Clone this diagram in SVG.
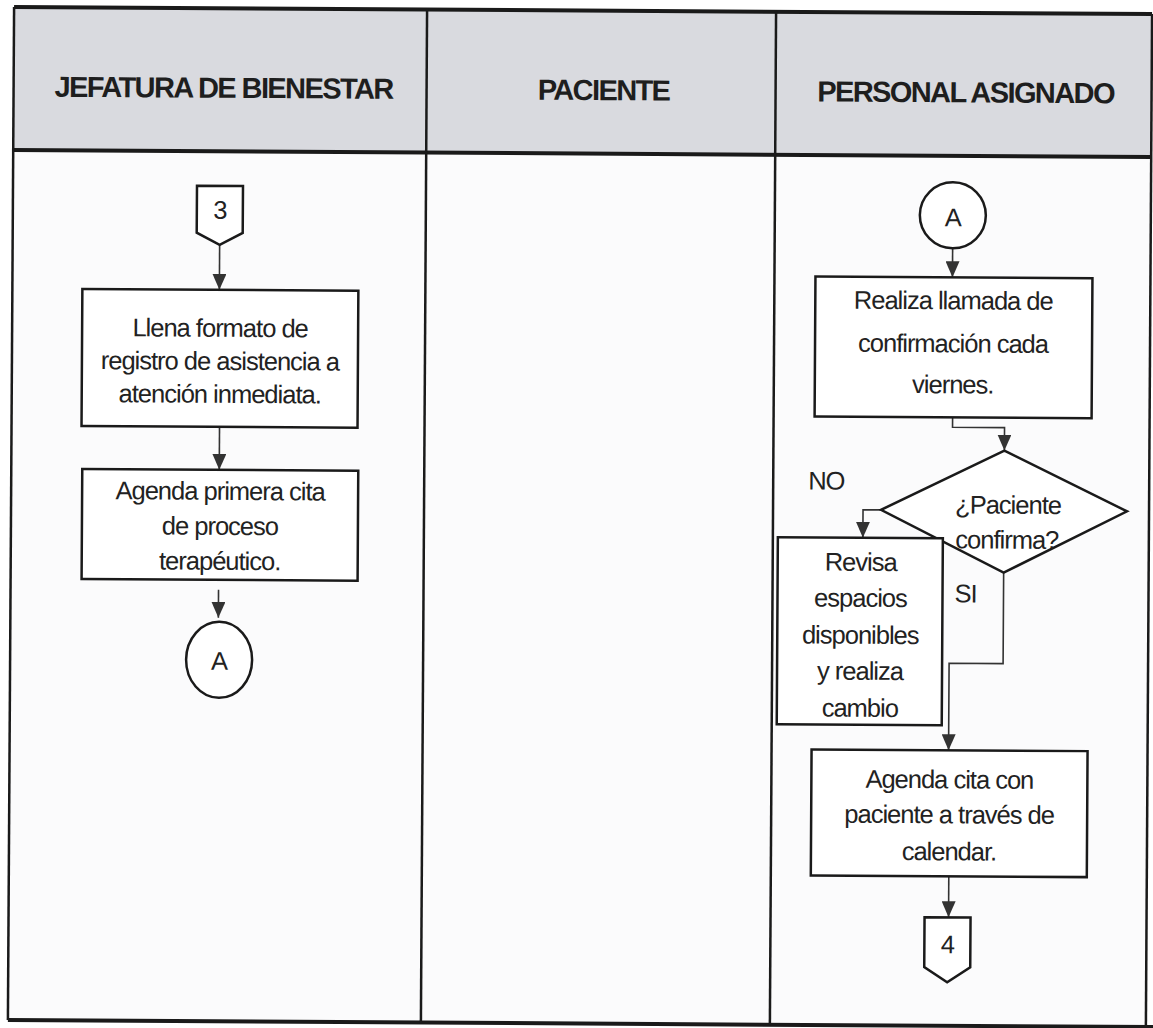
<svg xmlns="http://www.w3.org/2000/svg" width="1153" height="1028" viewBox="0 0 1153 1028">
  <defs>
    <marker id="arr" markerWidth="16" markerHeight="14" refX="16" refY="7" orient="auto" markerUnits="userSpaceOnUse" viewBox="0 0 16 14">
      <path d="M0,0 L16,7 L0,14 Z" fill="#333"/>
    </marker>
    <style>
      .lane { fill: #fbfbfc; }
      .hdr { fill: #d9dadf; }
      .border { stroke: #1a1a1a; stroke-width: 2.5; fill: none; }
      .thick { stroke: #1a1a1a; stroke-width: 4; fill: none; }
      .box { fill: #ffffff; stroke: #1a1a1a; stroke-width: 2.5; }
      .conn { fill: none; stroke: #333; stroke-width: 1.6; }
      .ht { font-family: "Liberation Sans", Arial, sans-serif; font-weight: bold; font-size: 29px; letter-spacing: -1.6px; fill: #1e1e1e; text-anchor: middle; }
      .t { font-family: "Liberation Sans", Arial, sans-serif; font-size: 25.5px; letter-spacing: -1px; fill: #222; text-anchor: middle; }
      .lbl { font-family: "Liberation Sans", Arial, sans-serif; font-size: 25.5px; letter-spacing: -1px; fill: #222; }
    </style>
  </defs>
  <rect x="0" y="0" width="1153" height="1028" fill="#ffffff"/>
  <g transform="rotate(0.35 576 514)">
    <g id="table">
      <rect class="hdr" x="11" y="10.5" width="1138" height="143"/>
      <rect class="lane" x="11" y="153.5" width="1138" height="870"/>
      <line class="thick" x1="11" y1="10.5" x2="1149" y2="10.5"/>
      <line class="thick" x1="11" y1="153.5" x2="1149" y2="153.5"/>
      <line class="thick" x1="11" y1="1023.5" x2="1160" y2="1023.5"/>
      <line class="border" x1="11" y1="10.5" x2="11" y2="1023.5"/>
      <line class="border" x1="424" y1="10.5" x2="424" y2="1023.5"/>
      <line class="border" x1="773" y1="10.5" x2="773" y2="1023.5"/>
      <line class="border" x1="1149" y1="10.5" x2="1149" y2="1030"/>
      <text class="ht" x="221" y="100">JEFATURA DE BIENESTAR</text>
      <text class="ht" x="601" y="100">PACIENTE</text>
      <text class="ht" x="963" y="100">PERSONAL ASIGNADO</text>
    </g>
    <g id="connectors">
      <path class="conn" d="M218,247 L218,292" marker-end="url(#arr)"/>
      <path class="conn" d="M219,429 L219,472" marker-end="url(#arr)"/>
      <path class="conn" d="M219,592 L219,620" marker-end="url(#arr)"/>
      <path class="conn" d="M951,246 L951,275" marker-end="url(#arr)"/>
      <path class="conn" d="M952,415 L952,425 L1004,425 L1004,448" marker-end="url(#arr)"/>
      <path class="conn" d="M881,508 L863,508 L863,536" marker-end="url(#arr)"/>
      <path class="conn" d="M1004,570 L1004,661 L950,661 L950,748" marker-end="url(#arr)"/>
      <path class="conn" d="M951,874 L951,915" marker-end="url(#arr)"/>
    </g>
    <g id="conn3">
      <path class="box" d="M195,188 L241,188 L241,235 L218,247 L195,235 Z"/>
      <text class="t" x="218" y="221">3</text>
    </g>
    <g id="llena">
      <rect class="box" x="81" y="292" width="276" height="137"/>
      <text class="t" x="219" y="339">Llena formato de</text>
      <text class="t" x="219" y="372">registro de asistencia a</text>
      <text class="t" x="219" y="405">atención inmediata.</text>
    </g>
    <g id="agenda1">
      <rect class="box" x="82" y="472" width="276" height="110"/>
      <text class="t" x="220" y="502">Agenda primera cita</text>
      <text class="t" x="220" y="537">de proceso</text>
      <text class="t" x="220" y="572">terapéutico.</text>
    </g>
    <g id="circleA1">
      <ellipse class="box" cx="220" cy="662" rx="33" ry="38"/>
      <text class="t" x="220" y="672">A</text>
    </g>
    <g id="circleA2">
      <circle class="box" cx="951" cy="213" r="33"/>
      <text class="t" x="951" y="224">A</text>
    </g>
    <g id="llamada">
      <rect class="box" x="814" y="275" width="277" height="140"/>
      <text class="t" x="952" y="307">Realiza llamada de</text>
      <text class="t" x="952" y="350">confirmación cada</text>
      <text class="t" x="952" y="391">viernes.</text>
    </g>
    <g id="decision">
      <path class="box" d="M1004,448 L1127,508 L1004,570 L881,508 Z"/>
      <text class="t" x="1008" y="511">¿Paciente</text>
      <text class="t" x="1007" y="546">confirma?</text>
      <text class="lbl" x="808" y="488">NO</text>
      <text class="lbl" x="955" y="600">SI</text>
    </g>
    <g id="revisa">
      <rect class="box" x="778" y="536" width="165" height="187"/>
      <text class="t" x="861" y="569">Revisa</text>
      <text class="t" x="861" y="605">espacios</text>
      <text class="t" x="861" y="642">disponibles</text>
      <text class="t" x="861" y="678">y realiza</text>
      <text class="t" x="861" y="715">cambio</text>
    </g>
    <g id="agenda2">
      <rect class="box" x="813" y="748" width="276" height="126"/>
      <text class="t" x="951" y="786">Agenda cita con</text>
      <text class="t" x="951" y="821">paciente a través de</text>
      <text class="t" x="951" y="858">calendar.</text>
    </g>
    <g id="conn4">
      <path class="box" d="M927,915 L973,915 L973,965 L950,980 L927,965 Z"/>
      <text class="t" x="950" y="951">4</text>
    </g>
  </g>
</svg>
